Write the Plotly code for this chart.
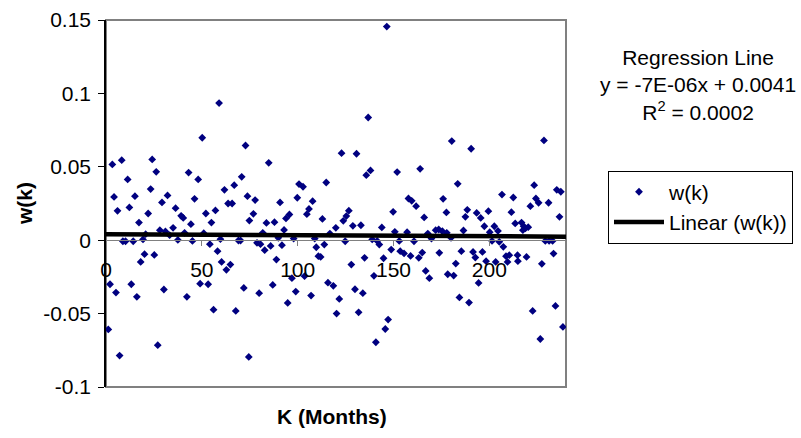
import plotly.graph_objects as go

k_months = [1.2, 2.1, 3.3, 4.2, 5.2, 6.0, 7.1, 8.2, 8.8, 10.2, 11.3, 12.2, 13.2, 14.2, 15.1, 16.1, 17.2, 18.1,
            19.3, 20.1, 20.7, 22.0, 23.3, 24.1, 25.2, 26.2, 27.0, 28.1, 29.2, 30.2, 31.0, 32.1, 33.2, 35.0,
            36.3, 37.5, 39.2, 40.3, 41.0, 42.2, 43.1, 44.3, 45.1, 46.2, 48.1, 49.1, 50.2, 51.0, 52.1, 53.3,
            54.2, 55.0, 56.1, 57.1, 58.2, 59.0, 59.7, 60.3, 61.8, 62.8, 63.7, 64.9, 65.8, 66.9, 67.7, 69.1,
            70.2, 70.8, 71.9, 72.8, 73.8, 74.5, 74.8, 76.9, 77.8, 78.8, 79.9, 80.6, 81.8, 82.8, 83.7, 84.9,
            85.9, 87.0, 87.9, 88.9, 89.9, 90.8, 91.8, 92.9, 93.9, 94.8, 95.7, 97.0, 97.9, 99.0, 99.8, 100.7,
            102.8, 103.6, 104.8, 105.9, 107.0, 107.8, 108.9, 109.7, 110.8, 112.0, 112.9, 113.9, 114.9, 115.8,
            116.8, 118.6, 119.9, 120.3, 121.7, 122.9, 123.8, 124.8, 125.4, 126.7, 128.0, 128.8, 129.9, 130.7,
            131.8, 133.0, 134.0, 134.9, 135.8, 136.8, 138.0, 138.9, 139.8, 140.8, 141.5, 142.6, 143.9, 144.8,
            145.7, 146.5, 147.2, 148.8, 149.8, 150.7, 151.9, 153.0, 153.5, 155.5, 157.1, 157.8, 158.9, 159.5,
            160.7, 161.8, 163.2, 163.9, 165.0, 166.0, 166.8, 167.9, 168.7, 169.8, 172.0, 173.6, 173.9, 175.5,
            175.9, 177.6, 177.8, 178.3, 180.0, 180.4, 181.4, 182.5, 183.5, 184.4, 185.4, 186.5, 187.5, 188.5,
            189.4, 190.5, 191.5, 192.7, 193.4, 194.4, 195.5, 196.4, 197.4, 198.3, 199.5, 200.2, 201.4, 202.6,
            203.3, 204.5, 205.2, 206.6, 207.3, 208.7, 209.5, 210.4, 211.5, 212.5, 213.5, 214.7, 214.9, 216.8,
            217.5, 217.9, 218.8, 219.4, 220.3, 221.4, 222.6, 223.4, 224.3, 225.7, 226.6, 227.4, 228.5, 229.2,
            230.9, 231.2, 233.0, 233.5, 234.5, 235.2, 236.6, 237.3, 238.4]

w_values = [-0.0608, -0.030, 0.0516, 0.0295, -0.0357, 0.020, -0.0786, 0.0545, -0.0007, -0.0007, 0.0414, 0.0223,
            -0.030, -0.0007, 0.030, -0.0386, 0.012, -0.0148, 0.0005, -0.0095, 0.0041, 0.0182, 0.0348, 0.055,
            -0.010, 0.0466, -0.0715, 0.0068, 0.0257, -0.0336, 0.006, 0.0305, 0.0034, 0.0084, 0.0218, 0.0002,
            0.0166, 0.0152, 0.005, -0.0386, 0.0461, 0.0109, -0.0005, 0.0282, 0.0414, -0.0296, 0.0698, 0.0048,
            0.0182, -0.030, -0.0027, 0.012, -0.0473, 0.0203, -0.0075, 0.0934, 0.0007, -0.0148, 0.0343, -0.0202,
            0.025, -0.0166, 0.025, 0.0375, -0.0482, -0.0002, -0.0002, 0.0432, -0.0325, 0.0645, 0.030, -0.0795,
            0.0134, 0.018, 0.0273, -0.0018, -0.0361, -0.0027, 0.005, -0.0068, 0.0118, 0.0527, -0.0039, -0.0305,
            0.0123, -0.0132, 0.0016, 0.0257, -0.0034, 0.007, 0.0148, -0.0427, 0.0175, -0.0259, 0.0011, -0.035,
            0.0289, 0.0382, 0.0364, -0.0245, 0.0177, 0.0213, -0.0377, 0.0266, 0.0011, -0.0048, -0.0109, -0.0114,
            0.0145, -0.003, 0.0393, -0.0289, 0.0045, -0.0311, 0.0084, -0.050, -0.040, 0.0593, 0.0132, -0.0007,
            0.0164, 0.0201, -0.0166, 0.0098, -0.0334, 0.0589, -0.0491, 0.0102, -0.0361, -0.012, 0.0443, 0.0836,
            0.0475, 0.0005, -0.0243, -0.0695, -0.0005, -0.003, 0.0087, -0.0123, -0.0605, 0.1455, -0.0541, -0.0064,
            0.0193, 0.0057, 0.0464, -0.0005, -0.0075, -0.009, 0.0055, 0.0284, -0.0107, 0.0268, -0.0007, 0.0232,
            -0.012, 0.0486, -0.0084, 0.0155, -0.0209, 0.0045, -0.0259, 0.0011, 0.0068, 0.0073, -0.0086, 0.0061,
            0.0282, 0.0189, 0.005, -0.0232, 0.0016, 0.0675, -0.0241, -0.0159, 0.0384, -0.039, -0.0075, 0.0066,
            0.0159, 0.0207, -0.0425, 0.0623, -0.008, -0.0118, 0.0186, -0.0291, 0.0152, -0.008, 0.0095, -0.0143,
            0.0198, 0.0055, -0.0005, 0.0095, -0.0148, 0.0063, -0.0011, 0.0311, -0.0045, -0.0109, -0.0148, -0.0102,
            0.0191, 0.0291, 0.0114, -0.0102, -0.0143, 0.012, 0.0068, 0.0095, 0.008, -0.0114, 0.0089, 0.0232,
            -0.0482, 0.0375, 0.0284, 0.0255, -0.0673, -0.0161, 0.068, -0.0005, 0.0255, -0.0005, -0.0005, -0.0091,
            -0.0448, 0.0343, 0.0159, 0.033, -0.0591]

# Regression line (as printed on the chart)
reg_slope = -7e-06
reg_intercept = 0.0041
reg_x = [0, 240]
reg_y = [reg_intercept + reg_slope * x for x in reg_x]

# Axis ticks
y_tickvals = [-0.1, -0.05, 0, 0.05, 0.1, 0.15]
y_ticktext = ["-0.1", "-0.05", "0", "0.05", "0.1", "0.15"]
x_tickvals = [0, 50, 100, 150, 200]
x_ticktext = ["0", "50", "100", "150", "200"]

FONT = "Liberation Sans, Arial, sans-serif"
FS = 21

fig = go.Figure()
fig.add_trace(go.Scatter(
    x=k_months, y=w_values, mode="markers", name="w(k)",
    marker=dict(symbol="diamond", size=6, color="#000080", line=dict(width=0)),
))
fig.add_trace(go.Scatter(
    x=reg_x, y=reg_y, mode="lines", name="Linear (w(k))",
    line=dict(color="black", width=4.5),
))

fig.update_layout(
    width=801, height=438,
    margin=dict(l=106, r=235, t=20, b=51, pad=0, autoexpand=False),
    paper_bgcolor="white", plot_bgcolor="white",
    font=dict(family=FONT, size=FS, color="black"),
    showlegend=True,
    legend=dict(
        x=1.0913, y=0.5897, xanchor="left", yanchor="top",
        bordercolor="black", borderwidth=1, bgcolor="white",
        font=dict(family=FONT, size=FS, color="black"),
        itemwidth=50, tracegroupgap=0,
    ),
    xaxis=dict(
        range=[0, 240], anchor="free", position=0.4,
        showgrid=False, zeroline=False,
        showline=True, linecolor="#808080", linewidth=1,
        ticks="outside", ticklen=5, tickcolor="#808080",
        tickvals=x_tickvals, ticktext=x_ticktext,
        tickfont=dict(family=FONT, size=FS, color="black"),
        ticklabelstandoff=6,
    ),
    yaxis=dict(
        range=[-0.1, 0.15],
        showgrid=False, zeroline=False,
        showline=True, linecolor="black", linewidth=1.5,
        ticks="outside", ticklen=6, tickcolor="black",
        tickvals=y_tickvals, ticktext=y_ticktext,
        tickfont=dict(family=FONT, size=FS, color="black"),
        ticklabelstandoff=3,
    ),
    shapes=[dict(
        type="rect", xref="paper", yref="paper", x0=0, x1=1, y0=0, y1=1,
        line=dict(color="#808080", width=2), layer="below",
    )],
    annotations=[
        dict(text="<b>w(k)</b>", xref="paper", yref="paper", x=-0.177, y=0.5,
             textangle=-90, showarrow=False, xanchor="center", yanchor="middle",
             font=dict(family=FONT, size=FS, color="black")),
        dict(text="<b>K (Months)</b>", xref="paper", yref="paper", x=0.491, y=-0.08,
             showarrow=False, xanchor="center", yanchor="middle",
             font=dict(family=FONT, size=FS, color="black")),
        dict(text="Regression Line<br>y = -7E-06x + 0.0041<br>R<sup>2</sup> = 0.0002",
             xref="paper", yref="paper", x=1.287, y=0.823, showarrow=False,
             xanchor="center", yanchor="middle", align="center",
             font=dict(family=FONT, size=FS, color="black")),
    ],
)

fig.write_html("out.html")
